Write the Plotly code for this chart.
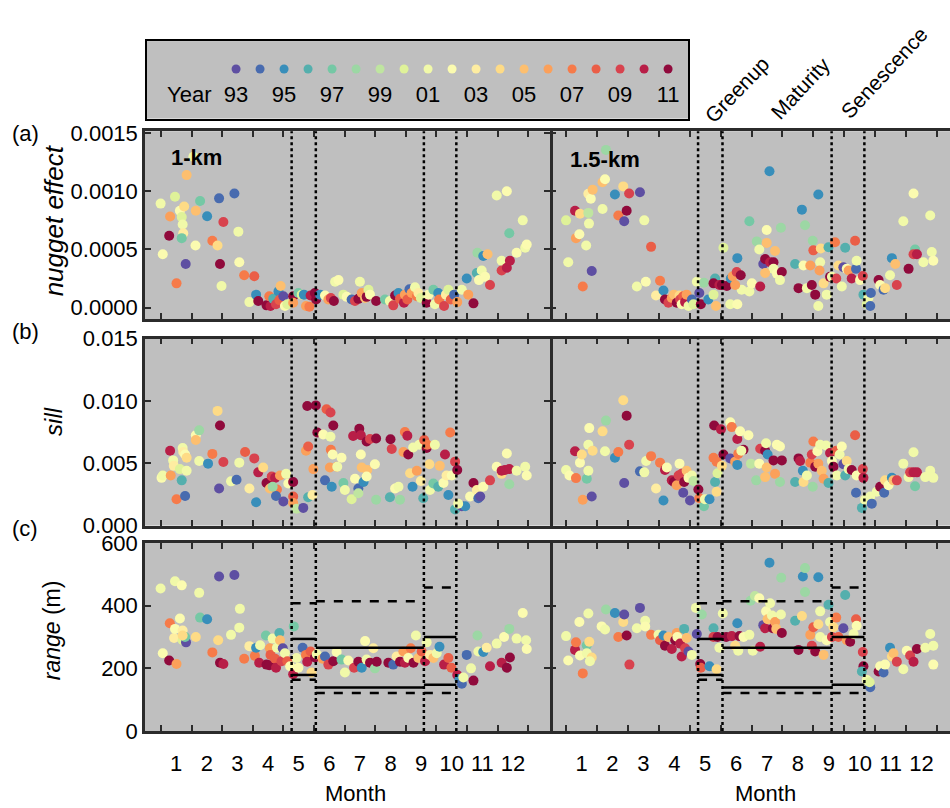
import plotly.graph_objects as go
from plotly.subplots import make_subplots

# ---------------- data ----------------
years = list(range(1993, 2012))
year_colors = ["#5e4fa2", "#486baf", "#388eba", "#54afad", "#75c8a5", "#9cd7a4",
               "#bfe5a0", "#dff299", "#f1f9a9", "#fbfbb0", "#feeda1", "#fedb86",
               "#fdbf6f", "#fba05a", "#f67b4a", "#ea5e47", "#d8434e", "#b81e47", "#900a3c"]
legend_labels = ["93", "95", "97", "99", "01", "03", "05", "07", "09", "11"]
legend_label_years = [1993, 1995, 1997, 1999, 2001, 2003, 2005, 2007, 2009, 2011]

months = list(range(1, 13))
month_bounds = [m + 0.5 for m in range(0, 13)]
phase_bounds = [4.77, 5.56, 9.09, 10.15]          # greenup / maturity / senescence limits
phase_names = ["Greenup", "Maturity", "Senescence"]

# range thresholds per phase (m)
range_upper_dash = [408, 414, 458]
range_upper_solid = [294, 266, 300]
range_lower_solid = [179, 139, 148]
range_lower_dash = [164, 121, 121]

# (a) nugget effect, 1-km
nug1_m = [0.49,0.56,0.80,0.77,0.96,1.01,1.12,1.18,1.21,1.23,1.18,1.26,1.34,1.31,1.56,1.63,1.64,1.78,2.01,2.18,
          2.35,2.40,2.43,2.54,2.48,2.90,3.03,3.06,3.22,3.55,3.39,3.61,3.68,3.95,4.08,4.04,4.17,4.26,4.34,4.41,
          4.37,4.5,4.55,4.63,4.82,4.82,4.99,5.10,5.17,5.24,5.35,5.39,5.53,5.57,5.70,5.86,5.97,6.05,6.15,6.19,
          6.30,6.46,6.57,6.73,6.84,6.95,7.0,7.06,7.17,7.22,7.28,7.33,7.53,7.82,7.98,8.09,8.15,8.26,8.31,8.44,
          8.47,8.55,8.62,8.69,8.80,8.86,8.91,8.99,9.18,9.24,9.4,9.45,9.56,9.59,9.75,9.81,9.89,9.97,10.08,10.18,
          10.33,10.49,10.54,10.71,10.82,10.84,10.89,11.03,10.98,11.17,11.09,11.25,11.47,11.8,11.63,11.63,11.8,11.9,11.88,12.12,
          12.32,12.4,12.45]
nug1_v = [8.94e-4,4.58e-4,7.83e-4,6.17e-4,9.53e-4,2.08e-4,8.33e-4,7.78e-4,7.14e-4,6.39e-4,5.97e-4,8.69e-4,11.39e-4,3.75e-4,12.97e-4,5.33e-4,8.33e-4,9.17e-4,7.86e-4,5.75e-4,
          5.33e-4,9.39e-4,3.75e-4,7.36e-4,1.86e-4,9.81e-4,6.53e-4,3.89e-4,2.78e-4,2.69e-4,0.47e-4,1.11e-4,0.56e-4,0.19e-4,0.14e-4,0.97e-4,0.75e-4,0.28e-4,1.39e-4,1.86e-4,
          0.64e-4,0.97e-4,0.14e-4,0.28e-4,0.97e-4,0.42e-4,1.25e-4,1.11e-4,1.11e-4,0.14e-4,0.08e-4,1.03e-4,1.25e-4,0.69e-4,1.11e-4,1.03e-4,0.69e-4,0.83e-4,0.56e-4,2.22e-4,
          2.36e-4,1.11e-4,0.92e-4,0.69e-4,0.56e-4,0.75e-4,2.22e-4,1.25e-4,0.83e-4,0.92e-4,1.53e-4,1.11e-4,0.56e-4,0.69e-4,0.56e-4,0.19e-4,1.03e-4,1.25e-4,0.75e-4,0.42e-4,
          1.11e-4,0.69e-4,1.58e-4,1.25e-4,1.75e-4,0.97e-4,1.25e-4,0.83e-4,0.42e-4,1.11e-4,1.53e-4,0.28e-4,1.25e-4,0.69e-4,0.14e-4,1.11e-4,1.53e-4,0.69e-4,1.11e-4,0.47e-4,
          1.53e-4,2.5e-4,1.11e-4,0.36e-4,2.97e-4,4.72e-4,2.36e-4,4.44e-4,3.19e-4,4.58e-4,2.64e-4,1.94e-4,9.64e-4,10.0e-4,4.03e-4,3.19e-4,3.42e-4,4.03e-4,6.39e-4,4.72e-4,
          7.5e-4,5.14e-4,5.42e-4]
nug1_y = [2001,2002,2006,2011,2000,2007,2002,2000,2001,2003,1997,2004,2005,1993,2001,2002,2005,1997,1995,2007,
          2004,1994,2011,2009,2001,1994,2001,2002,2007,2008,2001,1995,2011,2011,2010,2007,1996,2009,1995,2005,
          2008,1993,2002,2000,2011,2006,1997,2000,1995,2006,2007,2010,2011,2011,1995,2002,2006,2009,2011,2001,
          2002,2000,2002,1994,2009,2011,2001,2006,2005,2011,2000,2002,2011,1997,2001,2009,2011,1995,2008,2010,
          2006,2008,1994,2006,2001,2007,2003,2000,2011,2002,1997,2001,1995,2007,2009,2003,2000,2008,1994,2006,
          2001,1995,2006,2011,1996,1998,2002,1995,2001,2005,2002,2009,2001,2002,2001,2009,2010,2010,1997,2002,
          2001,2001,2002]

# (a) nugget effect, 1.5-km
nug15_m = [0.57,0.50,0.79,0.82,0.93,0.95,1.04,1.15,1.22,1.24,1.22,1.30,1.36,1.33,1.68,1.76,1.79,1.68,2.08,2.19,
           2.35,2.38,2.46,2.54,2.89,3.03,2.79,3.08,3.25,3.54,3.41,3.65,3.70,3.81,3.92,3.99,4.08,4.17,4.19,4.24,
           4.29,4.35,4.40,4.46,4.57,4.62,4.73,4.81,4.86,4.96,5.10,5.27,5.35,5.32,5.27,5.46,5.54,5.59,5.70,5.83,
           5.89,6.02,6.15,6.18,5.97,5.81,6.04,6.04,6.43,6.43,6.51,6.67,6.75,6.78,6.88,6.94,6.99,6.99,7.08,7.10,
           7.21,7.21,7.26,6.94,7.32,7.45,7.48,7.42,7.91,8.02,8.13,8.18,8.23,8.29,8.40,8.45,8.48,8.50,8.56,8.66,
           8.72,8.66,8.70,8.74,8.83,8.93,8.99,9.04,9.10,9.20,9.24,9.31,9.42,9.47,9.53,9.58,9.64,9.74,9.85,9.88,
           9.90,10.01,10.10,10.12,10.23,10.28,10.34,10.36,10.61,10.66,10.77,10.82,10.98,11.04,11.15,11.20,11.41,11.58,11.74,11.79,
           11.74,11.85,12.06,12.28,12.33,12.38]
nug15_v = [3.89e-4,7.5e-4,8.33e-4,5.97e-4,6.31e-4,8.06e-4,1.81e-4,5.33e-4,8.14e-4,7.22e-4,9.78e-4,9.36e-4,10.14e-4,3.14e-4,10.78e-4,11.03e-4,13.56e-4,8.47e-4,9.72e-4,7.92e-4,
           10.42e-4,7.42e-4,8.33e-4,9.81e-4,9.92e-4,7.5e-4,1.81e-4,2.22e-4,5.22e-4,2.31e-4,1.03e-4,1.47e-4,0.69e-4,0.42e-4,0.83e-4,1.11e-4,0.42e-4,1.03e-4,0.69e-4,0.28e-4,
           0.97e-4,0.47e-4,1.11e-4,0.14e-4,0.69e-4,0.28e-4,2.22e-4,1.25e-4,0.28e-4,2.14e-4,0.69e-4,1.11e-4,0.14e-4,2.5e-4,2.08e-4,1.94e-4,1.94e-4,5.14e-4,1.86e-4,2.5e-4,
           2.69e-4,3.06e-4,2.78e-4,1.53e-4,1.94e-4,0.28e-4,0.28e-4,4.25e-4,1.39e-4,7.42e-4,2.08e-4,5.69e-4,5.0e-4,1.81e-4,3.75e-4,4.17e-4,6.67e-4,5.56e-4,11.72e-4,3.89e-4,
           3.89e-4,3.33e-4,4.86e-4,2.97e-4,2.92e-4,6.86e-4,3.06e-4,2.36e-4,3.75e-4,1.67e-4,8.42e-4,3.61e-4,7.08e-4,1.67e-4,3.61e-4,1.94e-4,5.75e-4,4.92e-4,1.11e-4,9.72e-4,
           3.89e-4,0.14e-4,3.19e-4,5.08e-4,2.08e-4,1.11e-4,5.19e-4,2.64e-4,2.64e-4,5.61e-4,2.5e-4,3.61e-4,1.81e-4,3.47e-4,5.14e-4,3.33e-4,3.19e-4,2.5e-4,5.75e-4,3.33e-4,
           4.03e-4,2.36e-4,2.72e-4,1.11e-4,0.28e-4,0.83e-4,0.14e-4,1.25e-4,2.36e-4,1.94e-4,1.53e-4,1.67e-4,2.78e-4,4.25e-4,3.75e-4,1.94e-4,7.42e-4,3.33e-4,9.81e-4,5.0e-4,
           4.58e-4,4.58e-4,3.89e-4,7.92e-4,4.78e-4,4.03e-4]
nug15_y = [2001,2000,2010,2006,2002,2004,2007,2001,1999,2001,2003,2002,2005,1993,2005,2002,1998,2001,1995,2007,
           2004,1993,2011,2009,1993,2001,2001,2002,2008,2007,2003,1995,2011,2009,2006,2005,2011,2004,2009,2002,
           2008,2010,2006,2001,1994,2000,2001,1993,2011,1998,1995,2000,2005,1996,2011,2010,2011,2000,2011,1995,
           2006,2009,2011,2001,2006,2001,2002,1995,2001,1997,2002,1998,2001,2010,1993,2011,2002,2005,1995,2010,
           2011,2001,2005,2005,2002,1998,2011,2001,1996,2011,1995,2002,1998,2001,2006,2011,1998,2008,2011,1995,
           2001,2001,2006,2004,2004,2001,1996,2011,2001,2007,2009,2004,2001,1993,1996,2002,2006,2010,2008,1994,
           2001,2002,2009,1996,2000,2001,1994,1994,2011,2002,1994,2004,2001,1995,2005,2009,2001,2011,2002,1997,
           2009,2010,2001,2001,2001,2002]

# (b) sill, 1-km
sill1_m = [0.52,0.56,0.80,0.82,0.90,0.92,1.01,1.12,1.21,1.23,1.18,1.29,1.29,1.34,1.34,1.64,1.75,1.64,1.75,2.04,
           2.18,2.35,2.43,2.54,2.40,2.79,2.97,3.06,3.25,3.39,3.55,3.61,3.68,3.84,3.95,4.04,4.12,4.06,4.23,4.29,
           4.26,4.15,4.39,4.50,4.59,4.66,4.82,4.82,4.82,4.93,5.15,5.31,5.45,5.24,5.31,5.28,5.56,5.48,5.61,5.86,
           5.80,5.91,6.04,6.13,6.04,6.02,6.05,6.11,6.24,6.26,6.40,6.08,6.46,6.51,6.73,6.78,6.98,7.03,7.03,6.84,
           6.95,6.95,7.06,7.12,7.22,7.24,7.22,7.33,7.49,7.53,7.53,8.0,8.04,7.98,8.15,8.26,8.31,8.42,8.47,8.55,
           8.58,8.64,8.72,8.74,8.86,8.94,8.99,9.07,9.10,9.18,9.20,9.27,9.29,9.40,9.45,9.56,9.61,9.73,9.78,9.83,
           9.89,9.95,10.0,10.11,10.18,10.11,10.33,10.44,10.21,10.60,10.71,10.82,10.87,10.93,11.03,11.25,11.47,11.63,11.63,11.74,
           11.88,11.8,11.88,12.12,12.40,12.45]
sill1_v = [3.83e-3,4.02e-3,6.01e-3,4.02e-3,5.23e-3,4.79e-3,2.12e-3,4.53e-3,6.22e-3,5.91e-3,3.63e-3,2.38e-3,5.70e-3,5.44e-3,4.40e-3,7.25e-3,7.64e-3,6.87e-3,5.18e-3,4.97e-3,
           5.75e-3,9.20e-3,8.03e-3,5.10e-3,2.98e-3,3.55e-3,3.68e-3,5.05e-3,5.91e-3,2.98e-3,5.39e-3,1.87e-3,4.27e-3,4.66e-3,3.42e-3,3.42e-3,3.94e-3,2.98e-3,3.83e-3,2.90e-3,
           2.38e-3,3.11e-3,4.02e-3,1.94e-3,4.15e-3,3.37e-3,3.50e-3,2.33e-3,1.81e-3,1.35e-3,1.42e-3,2.28e-3,2.46e-3,6.01e-3,6.35e-3,9.59e-3,9.64e-3,4.53e-3,7.46e-3,3.63e-3,
           7.31e-3,9.33e-3,9.07e-3,8.03e-3,7.12e-3,4.66e-3,6.09e-3,5.70e-3,4.72e-3,4.72e-3,5.44e-3,3.11e-3,3.42e-3,2.85e-3,2.12e-3,7.18e-3,7.77e-3,7.25e-3,5.70e-3,3.76e-3,
           2.98e-3,2.59e-3,4.66e-3,3.50e-3,6.74e-3,4.46e-3,3.94e-3,6.94e-3,4.92e-3,6.99e-3,2.07e-3,6.92e-3,6.14e-3,2.28e-3,2.98e-3,3.11e-3,2.07e-3,5.91e-3,7.51e-3,7.20e-3,
           5.70e-3,4.20e-3,3.11e-3,6.27e-3,4.40e-3,6.48e-3,3.58e-3,2.20e-3,6.87e-3,6.22e-3,6.48e-3,4.92e-3,2.85e-3,3.37e-3,6.48e-3,3.11e-3,4.79e-3,3.42e-3,5.70e-3,4.02e-3,
           2.46e-3,7.46e-3,4.02e-3,5.13e-3,4.46e-3,1.30e-3,1.55e-3,1.55e-3,1.76e-3,2.33e-3,3.42e-3,2.85e-3,2.20e-3,2.33e-3,3.11e-3,3.63e-3,4.72e-3,4.15e-3,4.40e-3,4.46e-3,
           4.53e-3,5.78e-3,3.32e-3,4.40e-3,4.72e-3,4.02e-3]
sill1_y = [2002,2001,2010,2006,2001,2003,2007,2000,2001,2003,1996,1994,2002,2004,2001,2002,1998,2005,2001,1995,
           2007,2004,2011,2009,1993,2001,1994,2001,2008,2003,2009,1995,2010,2004,2011,2011,2009,2005,2010,2007,
           1994,1998,2006,1993,2001,2002,2011,2008,2006,1999,1993,1996,2003,2006,2008,2011,2011,2006,2011,1994,
           2002,2008,2009,2011,2001,2006,2007,2002,2006,2001,2002,1995,1997,2001,2000,2010,2011,2010,2002,2002,
           1994,1999,2005,1995,2011,2005,2002,2009,2002,2011,1998,2011,2009,1996,2002,2001,1998,2006,2007,2010,
           2011,2004,1995,2001,2006,2001,2003,1996,2008,2011,2007,2004,2001,1997,2001,1996,2005,2002,2010,2003,
           1995,2007,2002,2009,2011,1996,1993,1995,2001,2002,2011,2003,1994,1993,2002,2009,2002,2004,2010,2010,
           2010,2002,1998,2001,2001,2002]

# (b) sill, 1.5-km
sill15_m = [0.50,0.61,0.79,0.82,0.95,1.01,1.04,1.17,1.22,1.25,1.22,1.33,1.36,1.68,1.76,1.79,2.08,2.19,2.35,2.38,
            2.46,2.54,2.89,3.03,3.09,3.25,3.41,3.54,3.65,3.70,3.76,3.92,3.99,4.08,4.14,4.17,4.24,4.29,4.32,4.40,
            4.46,4.51,4.57,4.62,4.78,4.81,4.96,4.99,5.14,5.32,5.37,5.40,5.27,5.37,5.29,5.51,5.59,5.54,5.81,5.86,
            5.81,5.97,6.04,6.07,6.04,6.13,6.24,6.17,6.40,6.48,6.65,6.75,6.78,6.94,6.97,6.99,7.02,6.94,7.21,7.26,
            7.32,7.42,7.48,7.42,7.91,8.02,8.07,8.16,8.18,8.29,8.40,8.45,8.48,8.50,8.56,8.63,8.66,8.72,8.77,8.83,
            8.91,8.99,9.04,9.10,9.15,9.24,9.26,9.35,9.42,9.47,9.53,9.58,9.64,9.74,9.85,9.88,9.90,10.10,10.12,10.07,
            10.17,10.34,10.39,10.55,10.66,10.79,10.82,10.93,11.04,11.09,11.20,11.41,11.58,11.63,11.74,11.85,11.79,11.74,12.12,12.28,
            12.38]
sill15_v = [4.46e-3,4.02e-3,5.96e-3,3.81e-3,5.05e-3,5.70e-3,2.07e-3,3.76e-3,4.40e-3,7.82e-3,6.48e-3,2.33e-3,6.01e-3,7.56e-3,5.96e-3,8.42e-3,5.44e-3,5.91e-3,10.05e-3,3.42e-3,
            8.81e-3,6.48e-3,4.35e-3,4.27e-3,5.18e-3,5.57e-3,2.98e-3,5.05e-3,2.02e-3,4.46e-3,4.66e-3,3.63e-3,3.50e-3,3.24e-3,4.02e-3,4.97e-3,4.15e-3,2.64e-3,3.50e-3,4.40e-3,
            3.83e-3,2.02e-3,4.02e-3,3.58e-3,2.90e-3,2.20e-3,1.55e-3,2.12e-3,2.12e-3,3.50e-3,2.72e-3,4.20e-3,5.44e-3,5.13e-3,8.03e-3,7.72e-3,5.70e-3,4.79e-3,8.29e-3,7.90e-3,
            5.39e-3,5.13e-3,4.87e-3,5.75e-3,6.94e-3,7.56e-3,6.09e-3,6.01e-3,7.25e-3,4.97e-3,3.63e-3,4.97e-3,6.17e-3,6.01e-3,6.61e-3,4.66e-3,5.70e-3,3.89e-3,5.23e-3,4.15e-3,
            6.48e-3,6.35e-3,5.23e-3,3.50e-3,3.50e-3,5.39e-3,5.18e-3,4.40e-3,3.50e-3,4.02e-3,5.05e-3,5.70e-3,3.11e-3,6.74e-3,4.72e-3,5.96e-3,4.97e-3,6.48e-3,4.40e-3,3.76e-3,
            6.43e-3,3.42e-3,5.83e-3,5.18e-3,4.72e-3,6.01e-3,4.02e-3,5.70e-3,6.35e-3,4.92e-3,4.02e-3,5.18e-3,4.53e-3,4.46e-3,7.25e-3,2.64e-3,4.02e-3,4.53e-3,3.83e-3,1.42e-3,
            2.07e-3,2.33e-3,1.76e-3,2.72e-3,3.11e-3,2.64e-3,3.63e-3,3.24e-3,3.83e-3,3.63e-3,3.63e-3,4.97e-3,3.89e-3,4.27e-3,4.27e-3,4.27e-3,3.16e-3,5.88e-3,3.89e-3,4.40e-3,
            3.83e-3]
sill15_y = [2001,2002,2010,2007,2002,2004,2006,1997,2001,2002,2001,1993,2004,2004,2001,1998,1995,2007,2004,1993,
            2011,2009,1994,2001,2001,2007,2003,2007,1995,2010,2002,2010,2011,2006,2009,2002,2009,1993,2011,2005,
            2002,1993,2001,1999,2011,2007,1997,2001,1995,1996,2004,2000,2007,2007,2011,2010,2011,2004,2002,2007,
            1993,2006,1995,2007,2010,2002,2011,2001,2002,1999,1998,2002,2009,2011,2001,2005,1995,2005,2011,2006,
            2002,2002,2011,1998,1996,2011,2010,1995,2004,2001,2007,2009,1998,2007,2011,2002,2006,2001,2005,2006,
            2001,1996,2010,2002,2011,2008,2001,2001,2002,1993,1996,2004,2001,2011,2008,1994,2002,2009,2010,1996,
            2001,2001,1994,2001,2011,1994,2004,2002,1995,2005,2009,2001,2001,2009,2010,2010,1997,2001,2001,2001,
            2001]

# (c) range (m), 1-km
range1_m = [0.49,0.56,0.77,0.79,0.96,1.01,1.12,1.18,0.93,0.96,1.21,1.21,1.32,1.29,1.21,1.64,1.75,1.78,2.01,2.18,
            2.37,2.40,2.43,2.54,2.79,2.90,3.06,3.08,3.22,3.39,3.57,3.61,3.74,3.71,3.93,3.95,4.04,4.06,4.08,4.15,
            4.23,4.26,4.29,4.37,4.39,4.44,4.48,4.55,4.63,4.72,4.82,4.84,4.93,4.99,5.13,5.24,5.28,5.39,5.42,5.53,
            5.59,5.78,5.86,5.97,6.13,6.24,6.40,6.51,6.62,6.81,6.95,7.06,7.17,7.22,7.33,7.44,7.49,7.55,7.93,8.09,
            8.20,8.31,8.42,8.47,8.58,8.66,8.75,8.83,8.91,9.02,9.13,9.18,9.29,9.40,9.51,9.60,9.75,9.89,9.99,10.18,
            10.25,10.33,10.38,10.49,10.63,10.71,10.84,10.87,11.03,11.14,11.25,11.47,11.63,11.71,11.8,11.88,11.9,12.12,12.32,12.43,
            12.45]
range1_v = [455,248,225,344,478,214,359,465,297,326,321,290,283,300,305,300,441,362,357,251,
            290,493,218,214,307,498,330,390,231,271,240,266,274,218,305,212,210,264,243,295,
            231,202,266,313,290,223,264,248,223,207,181,334,233,202,266,243,221,254,187,235,
            245,231,238,212,223,252,228,187,225,202,221,202,287,228,218,264,200,221,218,212,
            238,221,254,218,233,264,218,305,233,254,223,283,243,233,248,269,212,233,202,179,
            166,151,171,243,200,161,305,254,252,266,207,279,218,300,202,326,235,295,377,290,
            262]
range1_y = [2001,2002,2011,2007,2001,2006,2002,2002,2003,2002,2003,2000,1993,1997,2004,2004,2001,1997,1995,2007,
            2004,1993,2011,2010,2001,1993,2001,2001,2007,2003,2007,1995,2001,2010,1997,2011,2011,2006,2008,2001,
            2008,2010,2001,1996,2005,2009,1993,2001,2008,2002,2010,1997,2001,2002,1994,2007,2010,2008,2004,2011,
            2001,2006,1994,2009,2011,2002,1997,2001,2002,2009,2011,1995,2002,2001,2011,2003,1998,2011,2011,1994,
            2003,2011,2006,2010,2002,2007,2011,2001,2005,2008,2010,2001,2003,2005,2001,1995,2010,2008,2008,2010,
            1995,1994,2001,1994,2001,2011,1998,2001,1995,2003,2010,2001,2010,2002,2011,1998,2011,2001,2002,2001,
            2002]

# (c) range (m), 1.5-km
range15_m = [0.50,0.57,0.79,0.82,0.93,0.95,1.04,1.17,1.22,1.17,1.25,1.33,1.27,1.65,1.76,1.79,2.08,2.19,2.35,2.38,
             2.46,2.55,2.89,2.79,3.06,3.06,3.25,3.49,3.54,3.65,3.70,3.81,3.92,4.03,4.08,4.10,4.19,4.24,4.32,4.35,
             4.40,4.46,4.57,4.70,4.73,4.84,4.89,4.86,5.14,5.27,5.37,5.27,5.40,5.46,5.57,5.68,5.86,5.97,6.04,6.11,
             6.07,6.24,6.43,6.54,6.47,6.61,6.75,6.78,6.88,6.94,6.97,7.02,7.10,7.08,7.16,7.19,7.26,7.30,7.46,7.45,
             7.48,7.91,8.02,8.13,8.16,8.23,8.23,8.40,8.45,8.50,8.56,8.66,8.66,8.72,8.72,8.83,8.93,8.99,9.04,9.10,
             9.15,9.24,9.31,9.47,9.53,9.58,9.69,9.80,9.88,9.90,10.10,10.12,10.07,10.23,10.34,10.32,10.61,10.66,10.77,10.82,
             10.98,11.04,11.09,11.20,11.41,11.52,11.63,11.74,11.85,12.12,12.28,12.38,12.38]
range15_v = [303,225,259,283,348,241,184,274,375,248,285,235,223,334,324,388,377,300,348,372,
             305,212,393,328,352,334,307,307,290,305,272,300,262,290,313,300,279,238,326,264,
             297,254,243,393,310,214,372,202,207,328,197,300,300,266,375,300,303,272,344,303,
             256,300,307,256,416,431,424,269,338,328,382,357,408,537,369,328,348,326,489,372,
             313,352,259,367,493,444,520,307,272,331,254,491,341,382,300,243,290,403,348,300,
             331,362,300,328,434,290,285,310,357,336,252,207,190,163,140,156,190,207,187,212,
             266,238,248,221,197,256,241,221,262,266,310,272,212]
range15_y = [2001,2002,2010,2007,2002,2002,2007,1997,2001,2001,2004,2004,2001,2002,2001,1998,1995,2007,2004,1993,
             2011,2009,1993,2001,2001,2002,2007,2001,2008,1995,2011,2005,2010,2011,2006,2002,2010,2010,1996,2009,
             2005,1993,2001,2001,1993,2011,1998,2008,1995,1996,2004,2009,2011,2001,2001,2011,2010,2004,1995,2011,
             2001,2002,2001,2001,1998,1999,2002,2010,1993,2010,2002,2005,2001,1995,2001,2011,2006,2005,1998,2001,
             2011,1996,2011,2004,1995,1998,1998,2006,2009,2008,2011,1995,2004,2001,2001,2005,2002,1996,2001,2009,
             2004,2007,2008,1993,1996,2006,2011,2001,2008,2002,2009,2011,1996,2001,1994,2000,2011,2002,1994,2002,
             1995,2004,2005,2009,2001,2002,2009,2010,2011,2001,2001,2001,2002]

# ---------------- figure ----------------
W, H = 950, 808
FONT = "Liberation Sans, Arial, sans-serif"
FRAME = "#2b2b2b"
color_of = dict(zip(years, year_colors))

fig = make_subplots(rows=3, cols=2)

panels = [
    (1, 1, nug1_m, nug1_v, nug1_y), (1, 2, nug15_m, nug15_v, nug15_y),
    (2, 1, sill1_m, sill1_v, sill1_y), (2, 2, sill15_m, sill15_v, sill15_y),
    (3, 1, range1_m, range1_v, range1_y), (3, 2, range15_m, range15_v, range15_y),
]

for (r, c, mm, vv, yy) in panels:
    n = min(len(mm), len(vv), len(yy))
    fig.add_trace(go.Scatter(x=mm[:n], y=vv[:n], mode="markers",
                             marker=dict(size=10, color=[color_of[y] for y in yy[:n]], line=dict(width=0)),
                             showlegend=False, hoverinfo="skip"), row=r, col=c)

for c in (1, 2):
    for vals, dash in ((range_upper_dash, "dash"), (range_lower_dash, "dash"),
                       (range_upper_solid, "solid"), (range_lower_solid, "solid")):
        xs, ys = [], []
        for i in range(3):
            xs += [phase_bounds[i], phase_bounds[i + 1], None]
            ys += [vals[i], vals[i], None]
        fig.add_trace(go.Scatter(x=xs, y=ys, mode="lines",
                                 line=dict(color="black", width=2.5, dash=dash),
                                 showlegend=False, hoverinfo="skip"), row=3, col=c)

# domains (paper fractions)
xdom = {1: [145 / W, 550 / W], 2: [550 / W, 1.0]}
ydom = {1: [1 - 317 / H, 1 - 123 / H], 2: [1 - 530 / H, 1 - 337 / H], 3: [1 - 742 / H, 1 - 548 / H]}
xrng = {1: [-0.02, 13.21], 2: [-0.02, 12.92]}
yinfo = {
    1: dict(range=[-0.0001, 0.0015167], tickvals=[0, 0.0005, 0.001, 0.0015],
            ticktext=["0.0000", "0.0005", "0.0010", "0.0015"]),
    2: dict(range=[0, 0.015], tickvals=[0, 0.005, 0.01, 0.015],
            ticktext=["0.000", "0.005", "0.010", "0.015"]),
    3: dict(range=[0, 600], tickvals=[0, 200, 400, 600], ticktext=["0", "200", "400", "600"]),
}

for r in (1, 2, 3):
    for c in (1, 2):
        fig.update_xaxes(row=r, col=c, domain=xdom[c], range=xrng[c],
                         tickmode="array", tickvals=months, ticktext=[str(m) for m in months],
                         ticks="", showticklabels=(r == 3), ticklabelstandoff=11,
                         minor=dict(tickmode="array", tickvals=month_bounds, ticks="inside",
                                    ticklen=6, tickwidth=1.5, tickcolor=FRAME, showgrid=False),
                         showline=True, linecolor=FRAME, linewidth=2.5, mirror="ticks",
                         showgrid=False, zeroline=False,
                         tickfont=dict(family=FONT, size=22, color="black"))
        fig.update_yaxes(row=r, col=c, domain=ydom[r], range=yinfo[r]["range"],
                         tickmode="array", tickvals=yinfo[r]["tickvals"], ticktext=yinfo[r]["ticktext"],
                         ticks="inside", ticklen=6, tickwidth=1.5, tickcolor=FRAME,
                         showticklabels=(c == 1),
                         showline=(c == 1), linecolor=FRAME, linewidth=2.5,
                         mirror=("ticks" if c == 1 else False),
                         showgrid=False, zeroline=False,
                         tickfont=dict(family=FONT, size=22, color="black"))

# phase boundary dotted lines
shapes = []
for ax_i in range(1, 7):
    xr = "x" if ax_i == 1 else f"x{ax_i}"
    yr = "y domain" if ax_i == 1 else f"y{ax_i} domain"
    for b in phase_bounds:
        shapes.append(dict(type="line", xref=xr, yref=yr, x0=b, x1=b, y0=0, y1=1,
                           line=dict(color="black", width=2.5, dash="dot")))

# legend subplot (year colour key)
fig.add_trace(go.Scatter(x=list(range(len(years))), y=[0.64] * len(years), mode="markers",
                         marker=dict(size=9, color=year_colors), xaxis="x7", yaxis="y7",
                         showlegend=False, hoverinfo="skip"))
fig.add_trace(go.Scatter(x=[y - 1993 for y in legend_label_years] + [-1.95],
                         y=[0.29] * (len(legend_labels) + 1), mode="text",
                         text=legend_labels + ["Year"],
                         textfont=dict(family=FONT, size=22, color="black"),
                         xaxis="x7", yaxis="y7", showlegend=False, hoverinfo="skip"))
fig.update_layout(
    xaxis7=dict(domain=[147 / W, 688 / W], range=[-3.71, 18.83], anchor="y7",
                showline=True, mirror=True, linecolor="black", linewidth=2,
                showticklabels=False, ticks="", showgrid=False, zeroline=False),
    yaxis7=dict(domain=[1 - 110 / H, 1 - 30 / H], range=[0, 1], anchor="x7",
                showline=True, mirror=True, linecolor="black", linewidth=2,
                showticklabels=False, ticks="", showgrid=False, zeroline=False),
)

def ann(text, x, y, size=22, angle=0, **kw):
    d = dict(text=text, x=x, y=y, xref="paper", yref="paper", showarrow=False,
             textangle=angle, xanchor="center", yanchor="middle",
             font=dict(family=FONT, size=size, color="black"))
    d.update(kw)
    return d

annotations = [
    ann("(a)", 25 / W, 1 - 125 / H),
    ann("(b)", 25 / W, 1 - 330 / H),
    ann("(c)", 25 / W, 1 - 533 / H),
    ann("<i>nugget effect</i>", 54 / W, 1 - 215 / H, size=26, angle=-90),
    ann("<i>sill</i>", 54 / W, 1 - 423 / H, size=24, angle=-90),
    ann("<i>range</i> (m)", 52 / W, 1 - 638 / H, size=23, angle=-90),
    ann("<b>1-km</b>", 196 / W, 1 - 150 / H),
    ann("<b>1.5-km</b>", 605 / W, 1 - 152 / H),
    ann("Month", 355 / W, -0.016, yanchor="bottom"),
    ann("Month", 765 / W, -0.016, yanchor="bottom"),
    ann(phase_names[0], 737 / W, 1 - 80 / H, size=21, angle=-46),
    ann(phase_names[1], 800 / W, 1 - 79 / H, size=21, angle=-47),
    ann(phase_names[2], 884 / W, 1 - 62 / H, size=21, angle=-47),
]

fig.update_layout(
    width=W, height=H, margin=dict(l=0, r=0, t=0, b=0),
    paper_bgcolor="white", plot_bgcolor="#bfbfbf",
    showlegend=False, shapes=shapes, annotations=annotations,
    font=dict(family=FONT, size=22, color="black"),
)

fig.write_html("out.html")
